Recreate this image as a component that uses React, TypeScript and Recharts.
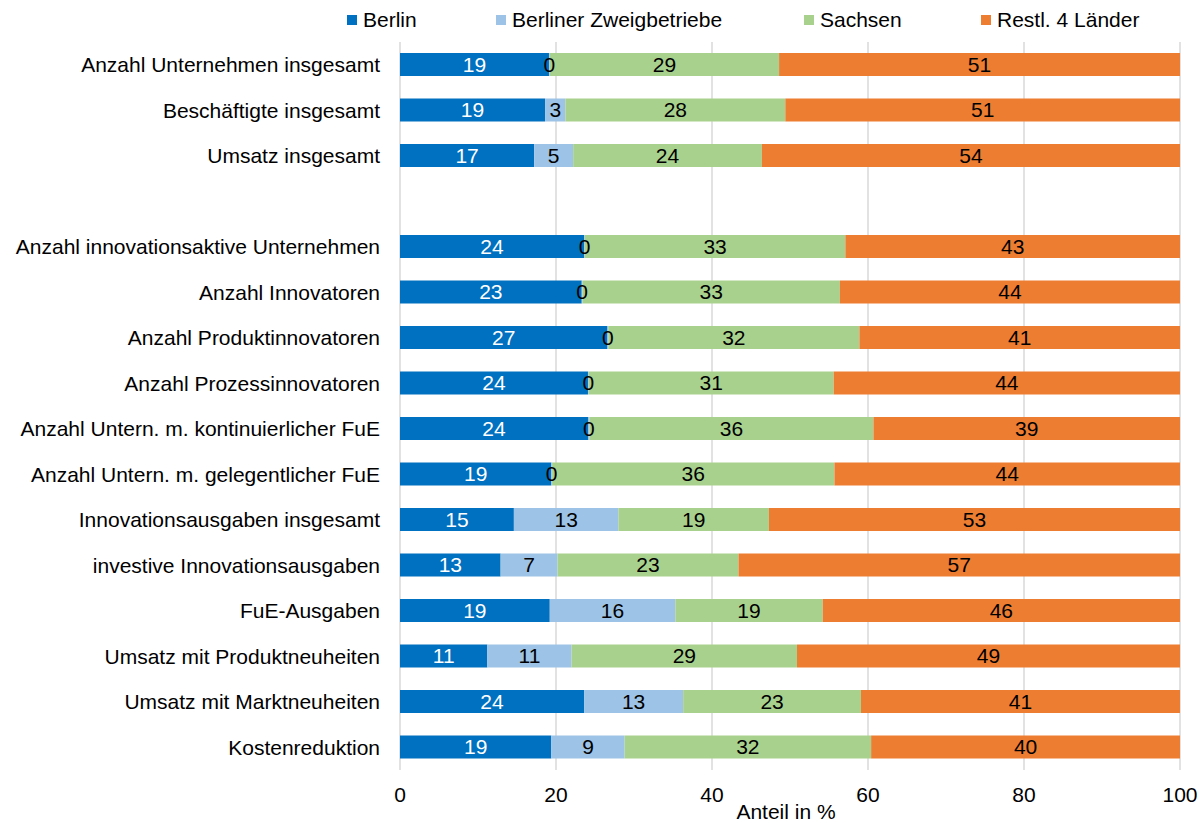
import { BarChart, Bar, XAxis, YAxis, CartesianGrid, LabelList } from "recharts";

const categories = [
  "Anzahl Unternehmen insgesamt",
  "Beschäftigte insgesamt",
  "Umsatz insgesamt",
  "",
  "Anzahl innovationsaktive Unternehmen",
  "Anzahl Innovatoren",
  "Anzahl Produktinnovatoren",
  "Anzahl Prozessinnovatoren",
  "Anzahl Untern. m. kontinuierlicher FuE",
  "Anzahl Untern. m. gelegentlicher FuE",
  "Innovationsausgaben insgesamt",
  "investive Innovationsausgaben",
  "FuE-Ausgaben",
  "Umsatz mit Produktneuheiten",
  "Umsatz mit Marktneuheiten",
  "Kostenreduktion",
];

// shares in % (labels show rounded values)
const berlin = [19.1, 18.6, 17.2, null, 23.6, 23.3, 26.6, 24.1, 24.1, 19.4, 14.6, 12.9, 19.2, 11.2, 23.6, 19.4];
const zweig = [0.1, 2.6, 5.0, null, 0.1, 0.1, 0.1, 0.1, 0.2, 0.1, 13.4, 7.3, 16.1, 10.8, 12.7, 9.4];
const sachsen = [29.4, 28.2, 24.2, null, 33.4, 33.0, 32.2, 31.4, 36.4, 36.2, 19.3, 23.2, 18.9, 28.9, 22.8, 31.6];
const rest = [51.4, 50.6, 53.6, null, 42.9, 43.6, 41.1, 44.4, 39.3, 44.3, 52.7, 56.6, 45.8, 49.1, 40.9, 39.6];

const xTicks = [0, 20, 40, 60, 80, 100];

const SERIES = [
  { key: "berlin", label: "Berlin", color: "#0070C0", text: "#ffffff" },
  { key: "zweig", label: "Berliner Zweigbetriebe", color: "#9DC3E6", text: "#000000" },
  { key: "sachsen", label: "Sachsen", color: "#A9D18E", text: "#000000" },
  { key: "rest", label: "Restl. 4 Länder", color: "#ED7D31", text: "#000000" },
];

const LEGEND_X = [347, 496, 804, 981];
const FONT = "'Liberation Sans', Arial, sans-serif";

const data = categories.map((name, i) => ({
  name,
  berlin: berlin[i],
  zweig: zweig[i],
  sachsen: sachsen[i],
  rest: rest[i],
}));

const fmt = (v: unknown) => (v == null ? "" : Math.round(Number(v)));

export default function App() {
  return (
    <div
      style={{
        position: "absolute",
        left: 0,
        top: 0,
        width: 1203,
        height: 823,
        background: "#fff",
        fontFamily: FONT,
      }}
    >
      {SERIES.map((s, i) => (
        <div
          key={s.key}
          style={{
            position: "absolute",
            left: LEGEND_X[i],
            top: 9,
            height: 21,
            display: "flex",
            alignItems: "center",
            fontSize: 21,
            lineHeight: "21px",
            color: "#000",
          }}
        >
          <span style={{ width: 10, height: 10, background: s.color, marginRight: 6 }} />
          <span>{s.label}</span>
        </div>
      ))}
      <BarChart
        width={1203}
        height={823}
        data={data}
        layout="vertical"
        margin={{ top: 42, right: 23, bottom: 0, left: 0 }}
        barSize={23}
        style={{ fontFamily: FONT }}
      >
        <CartesianGrid horizontal={false} stroke="#d9d9d9" strokeWidth={1.5} />
        <XAxis
          type="number"
          domain={[0, 100]}
          ticks={xTicks}
          axisLine={false}
          tickLine={false}
          tickSize={0}
          tickMargin={17}
          height={53}
          tick={{ fontSize: 21, fill: "#000" }}
          label={{
            value: "Anteil in %",
            position: "insideBottom",
            offset: 4,
            dx: -4,
            fontSize: 21,
            fill: "#000",
          }}
        />
        <YAxis
          type="category"
          dataKey="name"
          width={400}
          interval={0}
          axisLine={false}
          tickLine={false}
          tickSize={0}
          tickMargin={20}
          tick={{ fontSize: 21, fill: "#000" }}
        />
        {SERIES.map((s) => (
          <Bar key={s.key} dataKey={s.key} stackId="a" fill={s.color} isAnimationActive={false}>
            <LabelList
              dataKey={s.key}
              position="center"
              formatter={fmt}
              fill={s.text}
              fontSize={21}
            />
          </Bar>
        ))}
      </BarChart>
    </div>
  );
}
